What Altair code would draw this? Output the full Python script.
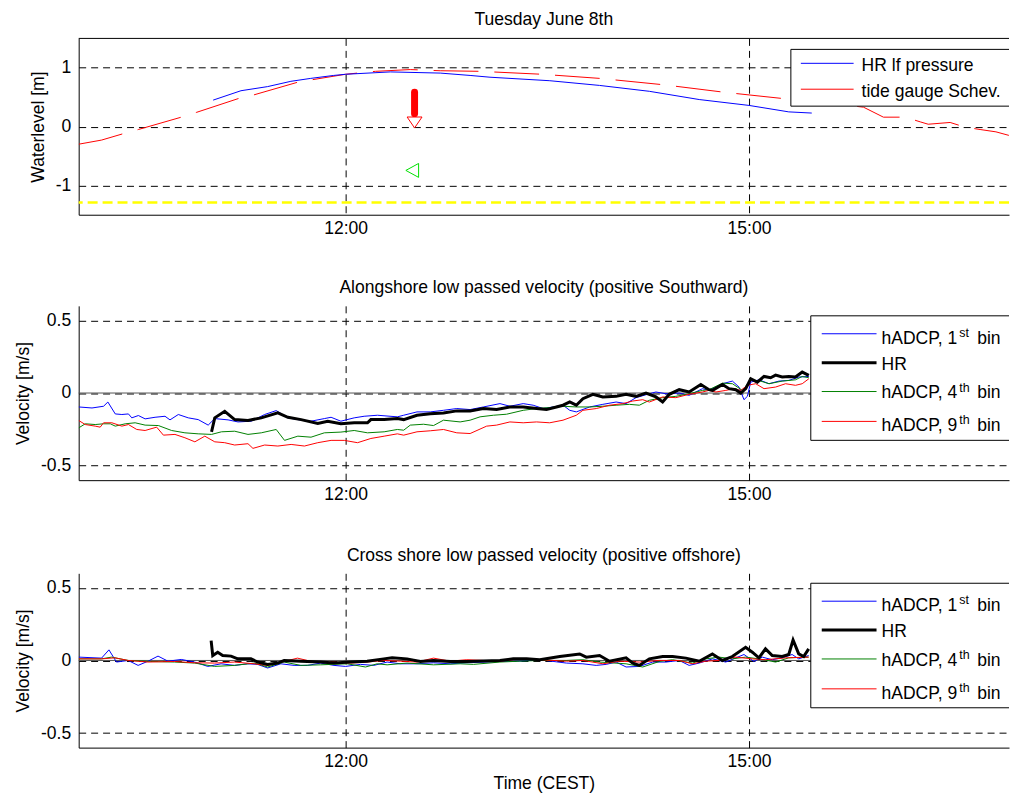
import altair as alt
import pandas as pd

FONT = "Liberation Sans"
FS = 17.6
W = 934
XDOM = [10.015, 16.934]

# ---------------- Panel 1: water level (time in decimal hours CEST, metres)
hr_lf_pressure = [(11.015, 0.45), (11.222, 0.61), (11.42, 0.68), (11.593, 0.77), (11.741, 0.82),
                  (11.911, 0.87), (12.0, 0.89), (12.333, 0.93), (12.704, 0.91), (12.926, 0.87),
                  (13.074, 0.84), (13.519, 0.78), (13.889, 0.70), (14.259, 0.60), (14.630, 0.46),
                  (15.0, 0.36), (15.296, 0.25), (15.467, 0.23)]
tide_gauge = [(10.015, -0.30), (10.185, -0.23), (10.348, -0.12), (10.459, -0.05), (10.778, 0.16),
              (10.889, 0.24), (11.207, 0.48), (11.319, 0.54), (11.652, 0.76), (12.0, 0.89),
              (12.222, 0.94), (12.481, 0.97), (12.704, 0.95), (13.0, 0.94), (13.459, 0.89),
              (13.889, 0.82), (14.370, 0.71), (14.830, 0.58), (15.281, 0.47), (15.593, 0.40),
              (15.852, 0.33), (16.0, 0.16), (16.163, 0.16), (16.274, 0.08), (16.333, 0.04),
              (16.496, 0.07), (16.607, -0.01), (16.719, -0.05), (16.837, -0.09), (16.933, -0.15)]
arrow_mark = {"t": [12.513], "v": [0.585], "v2": [0.22]}
arrow_head = {"t": [12.513], "v": [0.07]}
green_marker = {"t": [12.50], "v": [-0.746]}
yellow_level = -1.29

# ---------------- Panel 2: alongshore velocity (m/s)
along_adcp1 = [(10.015, -0.096), (10.114, -0.103), (10.200, -0.091), (10.232, -0.062), (10.287, -0.144),
               (10.336, -0.148), (10.385, -0.144), (10.410, -0.171), (10.459, -0.155), (10.509, -0.178),
               (10.583, -0.167), (10.657, -0.160), (10.694, -0.185), (10.756, -0.148), (10.830, -0.171),
               (10.904, -0.183), (10.978, -0.221), (11.027, -0.176), (11.126, -0.185), (11.200, -0.199),
               (11.299, -0.194), (11.398, -0.148), (11.484, -0.121), (11.571, -0.171), (11.645, -0.183),
               (11.743, -0.194), (11.842, -0.176), (11.892, -0.167), (11.965, -0.194), (12.064, -0.171),
               (12.138, -0.160), (12.237, -0.153), (12.385, -0.164), (12.432, -0.153), (12.531, -0.130),
               (12.630, -0.130), (12.728, -0.119), (12.827, -0.107), (12.926, -0.114), (13.025, -0.096),
               (13.148, -0.073), (13.222, -0.091), (13.321, -0.073), (13.395, -0.084), (13.469, -0.107),
               (13.543, -0.096), (13.617, -0.084), (13.667, -0.119), (13.716, -0.130), (13.815, -0.096),
               (13.913, -0.078), (14.012, -0.062), (14.086, -0.073), (14.160, -0.032), (14.259, -0.005),
               (14.308, 0.007), (14.382, -0.005), (14.481, 0.000), (14.555, -0.016), (14.654, 0.030),
               (14.703, 0.018), (14.803, 0.064), (14.877, 0.082), (14.926, 0.041), (14.963, -0.046),
               (14.988, -0.023), (15.013, 0.075), (15.075, 0.091), (15.149, 0.064), (15.223, 0.082),
               (15.297, 0.087), (15.371, 0.110), (15.445, 0.114)]
along_hr = [(11.003, -0.267), (11.027, -0.171), (11.101, -0.126), (11.175, -0.183), (11.274, -0.189),
            (11.373, -0.171), (11.496, -0.137), (11.571, -0.167), (11.669, -0.183), (11.793, -0.210),
            (11.867, -0.194), (11.965, -0.212), (12.064, -0.205), (12.163, -0.205), (12.188, -0.183),
            (12.287, -0.183), (12.385, -0.176), (12.432, -0.183), (12.531, -0.153), (12.630, -0.142),
            (12.728, -0.137), (12.827, -0.123), (12.926, -0.123), (13.025, -0.107), (13.123, -0.114),
            (13.222, -0.096), (13.321, -0.096), (13.420, -0.107), (13.494, -0.114), (13.568, -0.096),
            (13.617, -0.084), (13.667, -0.062), (13.716, -0.084), (13.765, -0.039), (13.839, -0.009),
            (13.913, -0.027), (14.012, -0.023), (14.086, -0.009), (14.160, -0.023), (14.234, 0.000),
            (14.308, -0.027), (14.358, -0.062), (14.407, -0.009), (14.481, 0.023), (14.555, 0.007),
            (14.642, 0.059), (14.703, 0.023), (14.729, 0.018), (14.803, 0.059), (14.852, 0.030),
            (14.902, 0.023), (14.939, 0.000), (14.976, 0.030), (15.013, 0.098), (15.062, 0.075),
            (15.112, 0.114), (15.161, 0.105), (15.198, 0.123), (15.247, 0.110), (15.297, 0.114),
            (15.346, 0.110), (15.396, 0.144), (15.445, 0.121)]
along_adcp4 = [(10.015, -0.240), (10.064, -0.212), (10.138, -0.217), (10.200, -0.212), (10.250, -0.212),
               (10.287, -0.228), (10.361, -0.212), (10.435, -0.205), (10.509, -0.221), (10.608, -0.224),
               (10.706, -0.258), (10.805, -0.274), (10.904, -0.281), (11.003, -0.285), (11.077, -0.267),
               (11.175, -0.263), (11.274, -0.285), (11.373, -0.274), (11.484, -0.251), (11.546, -0.326),
               (11.645, -0.297), (11.743, -0.304), (11.842, -0.274), (11.965, -0.269), (12.064, -0.258),
               (12.163, -0.274), (12.287, -0.267), (12.385, -0.251), (12.432, -0.256), (12.481, -0.221),
               (12.580, -0.215), (12.654, -0.224), (12.728, -0.187), (12.852, -0.199), (12.926, -0.187),
               (13.000, -0.164), (13.099, -0.153), (13.197, -0.146), (13.321, -0.119), (13.420, -0.107),
               (13.518, -0.100), (13.617, -0.091), (13.716, -0.096), (13.815, -0.096), (13.913, -0.091),
               (14.012, -0.084), (14.111, -0.078), (14.185, -0.084), (14.259, -0.050), (14.358, -0.032),
               (14.456, -0.023), (14.555, -0.005), (14.654, 0.018), (14.703, 0.023), (14.803, 0.068),
               (14.877, 0.064), (14.951, 0.018), (15.013, 0.091), (15.087, 0.082), (15.149, 0.064),
               (15.247, 0.082), (15.346, 0.091), (15.396, 0.114), (15.445, 0.105)]
along_adcp9 = [(10.015, -0.189), (10.064, -0.217), (10.138, -0.228), (10.175, -0.235), (10.200, -0.205),
               (10.262, -0.205), (10.336, -0.228), (10.385, -0.217), (10.447, -0.251), (10.509, -0.258),
               (10.595, -0.235), (10.645, -0.290), (10.731, -0.285), (10.805, -0.308), (10.879, -0.336),
               (10.953, -0.297), (11.027, -0.336), (11.101, -0.342), (11.175, -0.358), (11.274, -0.349),
               (11.311, -0.381), (11.398, -0.358), (11.496, -0.365), (11.595, -0.354), (11.694, -0.365),
               (11.793, -0.342), (11.892, -0.326), (11.990, -0.326), (12.089, -0.342), (12.188, -0.313),
               (12.287, -0.297), (12.385, -0.281), (12.432, -0.290), (12.531, -0.267), (12.630, -0.260),
               (12.728, -0.251), (12.827, -0.274), (12.926, -0.279), (13.049, -0.228), (13.123, -0.221),
               (13.222, -0.199), (13.321, -0.205), (13.420, -0.199), (13.518, -0.205), (13.617, -0.187),
               (13.716, -0.153), (13.765, -0.119), (13.864, -0.107), (13.963, -0.084), (14.061, -0.073),
               (14.136, -0.055), (14.210, -0.046), (14.259, -0.062), (14.358, -0.027), (14.456, -0.032),
               (14.555, -0.009), (14.654, 0.007), (14.703, 0.018), (14.754, 0.007), (14.828, 0.018),
               (14.889, 0.030), (14.939, 0.018), (14.988, 0.053), (15.050, 0.064), (15.112, 0.030),
               (15.198, 0.041), (15.272, 0.064), (15.346, 0.053), (15.396, 0.064), (15.445, 0.098)]

# ---------------- Panel 3: cross-shore velocity (m/s)
cross_adcp1 = [(10.015, 0.023), (10.185, 0.016), (10.240, 0.073), (10.296, -0.011), (10.383, 0.000),
               (10.457, -0.034), (10.531, -0.005), (10.605, 0.030), (10.679, -0.005), (10.778, 0.007),
               (10.877, -0.011), (10.975, -0.041), (11.074, -0.023), (11.173, -0.034), (11.272, -0.023),
               (11.346, -0.027), (11.420, -0.052), (11.519, -0.023), (11.617, -0.034), (11.716, -0.034),
               (11.815, -0.018), (11.914, -0.034), (12.000, -0.041), (12.111, -0.027), (12.210, -0.034),
               (12.309, -0.011), (12.407, -0.023), (12.531, -0.023), (12.654, -0.016), (12.778, -0.023),
               (12.901, -0.016), (13.148, -0.007), (13.296, -0.005), (13.444, 0.005), (13.642, -0.018),
               (13.765, -0.023), (13.864, -0.034), (13.938, -0.027), (14.012, -0.011), (14.086, -0.045),
               (14.185, -0.041), (14.284, -0.011), (14.383, -0.011), (14.481, 0.000), (14.555, -0.034),
               (14.630, -0.018), (14.728, 0.011), (14.827, -0.011), (14.963, 0.041), (15.037, -0.007),
               (15.099, 0.023), (15.173, 0.005), (15.247, 0.018), (15.321, 0.041), (15.370, 0.011),
               (15.444, 0.034)]
cross_hr = [(11.000, 0.136), (11.012, 0.034), (11.049, 0.057), (11.086, 0.034), (11.148, 0.030),
            (11.198, 0.011), (11.296, 0.011), (11.346, -0.011), (11.420, -0.027), (11.494, -0.018),
            (11.543, 0.000), (11.667, -0.005), (11.815, -0.011), (11.914, -0.018), (12.037, -0.011),
            (12.160, -0.005), (12.284, 0.011), (12.346, 0.018), (12.457, 0.011), (12.556, -0.007),
            (12.654, 0.000), (12.778, -0.007), (12.901, -0.007), (13.148, 0.000), (13.247, 0.011),
            (13.346, 0.011), (13.444, 0.005), (13.593, 0.027), (13.741, 0.045), (13.790, 0.023),
            (13.889, 0.034), (13.963, -0.005), (14.086, 0.018), (14.136, -0.018), (14.185, -0.034),
            (14.259, 0.011), (14.358, 0.027), (14.432, 0.027), (14.531, 0.016), (14.630, -0.005),
            (14.728, 0.045), (14.802, 0.000), (14.876, 0.027), (14.975, 0.091), (15.025, 0.057),
            (15.074, 0.018), (15.123, 0.080), (15.173, 0.034), (15.247, 0.027), (15.296, 0.041),
            (15.328, 0.141), (15.370, 0.045), (15.407, 0.027), (15.444, 0.080)]
cross_adcp4 = [(10.015, 0.011), (10.185, 0.011), (10.259, 0.023), (10.383, 0.000), (10.556, -0.007),
               (10.728, -0.011), (10.877, -0.018), (11.025, -0.041), (11.173, -0.034), (11.321, -0.018),
               (11.420, -0.045), (11.543, -0.011), (11.667, -0.034), (11.815, -0.030), (12.012, -0.023),
               (12.148, -0.045), (12.235, -0.023), (12.309, -0.030), (12.457, -0.018), (12.654, -0.030),
               (12.852, -0.023), (12.951, -0.027), (13.148, -0.011), (13.296, -0.005), (13.444, 0.000),
               (13.642, 0.000), (13.765, 0.005), (13.889, -0.011), (14.086, -0.023), (14.210, -0.045),
               (14.333, -0.007), (14.432, 0.005), (14.580, -0.018), (14.679, 0.011), (14.778, 0.023),
               (14.876, 0.011), (14.975, 0.023), (15.074, 0.011), (15.198, -0.011), (15.296, 0.018),
               (15.444, 0.023)]
cross_adcp9 = [(10.015, 0.011), (10.185, 0.011), (10.284, 0.018), (10.383, 0.000), (10.531, -0.011),
               (10.728, -0.007), (10.877, -0.016), (11.025, -0.018), (11.173, -0.011), (11.321, -0.023),
               (11.420, -0.034), (11.543, -0.007), (11.642, 0.016), (11.765, -0.011), (11.914, -0.011),
               (12.037, -0.018), (12.160, -0.011), (12.284, 0.000), (12.407, -0.005), (12.531, -0.011),
               (12.654, 0.016), (12.778, -0.005), (12.901, 0.005), (13.148, -0.005), (13.296, 0.011),
               (13.444, 0.005), (13.642, -0.005), (13.765, 0.000), (13.914, -0.023), (14.037, -0.005),
               (14.185, -0.011), (14.333, 0.000), (14.481, 0.000), (14.580, -0.023), (14.679, -0.005),
               (14.778, 0.000), (14.901, 0.023), (15.025, 0.011), (15.123, 0.005), (15.272, 0.018),
               (15.444, 0.023)]

BLUE, RED, GREEN, BLACK = "#0000ff", "#ff0000", "#008000", "#000000"


def one_row():
    return pd.DataFrame({"k": [0]})


def xenc(show_title):
    kw = dict(values=[12, 15], labelExpr="format(datum.value, 'd') + ':00'", grid=True,
              ticks=False, labelPadding=5, titlePadding=4, labelFlush=False)
    kw["title"] = "Time (CEST)" if show_title else None
    return alt.X("t:Q", scale=alt.Scale(domain=XDOM, nice=False, zero=False), axis=alt.Axis(**kw))


def yenc(domain, values, title):
    ax = alt.Axis(values=values, grid=True, ticks=False, labelPadding=8, titlePadding=8, title=title,
                  labelExpr="datum.value < 0 ? '-' + format(-datum.value, '') : format(datum.value, '')")
    return alt.Y("v:Q", scale=alt.Scale(domain=domain, nice=False, zero=False), axis=ax)


def line(pairs, color, width, x, y, dash=None):
    df = pd.DataFrame(pairs, columns=["t", "v"])
    kw = dict(color=color, strokeWidth=width, clip=True)
    if dash:
        kw["strokeDash"] = dash
    return alt.Chart(df).mark_line(**kw).encode(x=x, y=y)


def legend(x0, y0, y1, entries):
    lay = [alt.Chart(one_row()).mark_rect(fill="white").encode(
        x=alt.value(x0), x2=alt.value(W), y=alt.value(y0), y2=alt.value(y1))]
    lay.append(alt.Chart(one_row()).mark_rule(color="black", strokeWidth=1).encode(
        x=alt.value(x0), y=alt.value(y0), y2=alt.value(y1)))
    for yy in (y0, y1):
        lay.append(alt.Chart(one_row()).mark_rule(color="black", strokeWidth=1).encode(
            x=alt.value(x0), x2=alt.value(W), y=alt.value(yy)))
    for e in entries:
        lay.append(alt.Chart(one_row()).mark_rule(color=e["color"], strokeWidth=e["w"]).encode(
            x=alt.value(e["lx"]), x2=alt.value(e["lx2"]), y=alt.value(e["ly"])))
        lay.append(alt.Chart(one_row()).mark_text(text=e["main"], align="left", baseline="alphabetic",
                                                  font=FONT, fontSize=FS, color="black").encode(
            x=alt.value(e["tx"]), y=alt.value(e["ty"])))
        if e.get("sup"):
            lay.append(alt.Chart(one_row()).mark_text(text=e["sup"], align="left", baseline="alphabetic",
                                                      font=FONT, fontSize=12.5, color="black").encode(
                x=alt.value(e["tx"] + 78), y=alt.value(e["ty"] - 7)))
            lay.append(alt.Chart(one_row()).mark_text(text="bin", align="left", baseline="alphabetic",
                                                      font=FONT, fontSize=FS, color="black").encode(
                x=alt.value(e["tx"] + 96), y=alt.value(e["ty"])))
    return lay


def title(text):
    return alt.TitleParams(text=text, font=FONT, fontSize=FS, fontWeight="normal", color="black",
                           offset=9, anchor="middle")


# ---- panel 1
x1 = xenc(False)
y1 = yenc([-1.5, 1.5], [-1, 0, 1], "Waterlevel [m]")
p1_layers = [
    alt.Chart(pd.DataFrame({"v": [yellow_level]})).mark_rule(color="#ffff00", strokeWidth=2.5,
                                                             strokeDash=[10, 5]).encode(y=y1),
    line(tide_gauge, RED, 1, x1, y1, dash=[45, 16]),
    line(hr_lf_pressure, BLUE, 1, x1, y1),
    alt.Chart(pd.DataFrame(arrow_mark)).mark_rule(color=RED, strokeWidth=7, strokeCap="round").encode(
        x=x1, y=y1, y2="v2:Q"),
    alt.Chart(pd.DataFrame(arrow_head)).mark_point(shape="M-1,-0.73L1,-0.73L0,0.73Z", size=225, filled=True,
                                                   fill="white", stroke=RED, strokeWidth=1, opacity=1).encode(
        x=x1, y=y1),
    alt.Chart(pd.DataFrame(green_marker)).mark_point(shape="M-1,0L0.83,-1L0.83,1Z", size=196, filled=False,
                                                     stroke="#00e000", strokeWidth=1, opacity=1).encode(
        x=x1, y=y1),
    alt.Chart(one_row()).mark_rule(color="black", strokeWidth=1).encode(
        x=alt.value(0), x2=alt.value(W), y=alt.value(0)),
]
p1_layers += legend(715, 11, 68, [
    dict(color=BLUE, w=1, lx=725, lx2=778, ly=25, main="HR lf pressure", tx=786, ty=33),
    dict(color=RED, w=1, lx=725, lx2=778, ly=51, main="tide gauge Schev.", tx=786, ty=59),
])
p1 = alt.layer(*p1_layers).properties(width=W, height=177, title=title("Tuesday June 8th"))


def vel_panel(ttl, s1, shr, s4, s9, show_xtitle):
    x = xenc(show_xtitle)
    y = yenc([-0.6, 0.6], [-0.5, 0, 0.5], "Velocity [m/s]")
    lay = [
        alt.Chart(pd.DataFrame({"v": [0.0]})).mark_rule(color="#555555", strokeWidth=1).encode(y=y),
        line(s1, BLUE, 1, x, y),
        line(s4, GREEN, 1, x, y),
        line(s9, RED, 1, x, y),
        line(shr, BLACK, 3, x, y),
    ]
    lay += legend(735, 10, 135, [
        dict(color=BLUE, w=1, lx=746, lx2=801, ly=28, main="hADCP, 1", sup="st", tx=806, ty=38),
        dict(color=BLACK, w=3, lx=746, lx2=801, ly=57, main="HR", tx=806, ty=64),
        dict(color=GREEN, w=1, lx=746, lx2=801, ly=86, main="hADCP, 4", sup="th", tx=806, ty=93),
        dict(color=RED, w=1, lx=746, lx2=801, ly=116, main="hADCP, 9", sup="th", tx=806, ty=126),
    ])
    return alt.layer(*lay).properties(width=W, height=175, title=title(ttl))


p2 = vel_panel("Alongshore low passed velocity (positive Southward)",
               along_adcp1, along_hr, along_adcp4, along_adcp9, False)
p3 = vel_panel("Cross shore low passed velocity (positive offshore)",
               cross_adcp1, cross_hr, cross_adcp4, cross_adcp9, True)

chart = alt.vconcat(p1, alt.vconcat(p2, p3, spacing=43.5), spacing=41.5).properties(
    padding={"left": 14, "top": 9, "right": 0, "bottom": 0}
).configure_axis(
    labelFont=FONT, labelFontSize=FS, labelColor="black", titleFont=FONT, titleFontSize=FS,
    titleFontWeight="normal", titleColor="black", domainColor="black", domainWidth=1,
    gridColor="black", gridDash=[7, 5], gridOpacity=1, gridWidth=1
).configure_view(strokeWidth=0).configure_title(font=FONT)

chart.save("out.html", embed_options={"renderer": "svg", "actions": False})
